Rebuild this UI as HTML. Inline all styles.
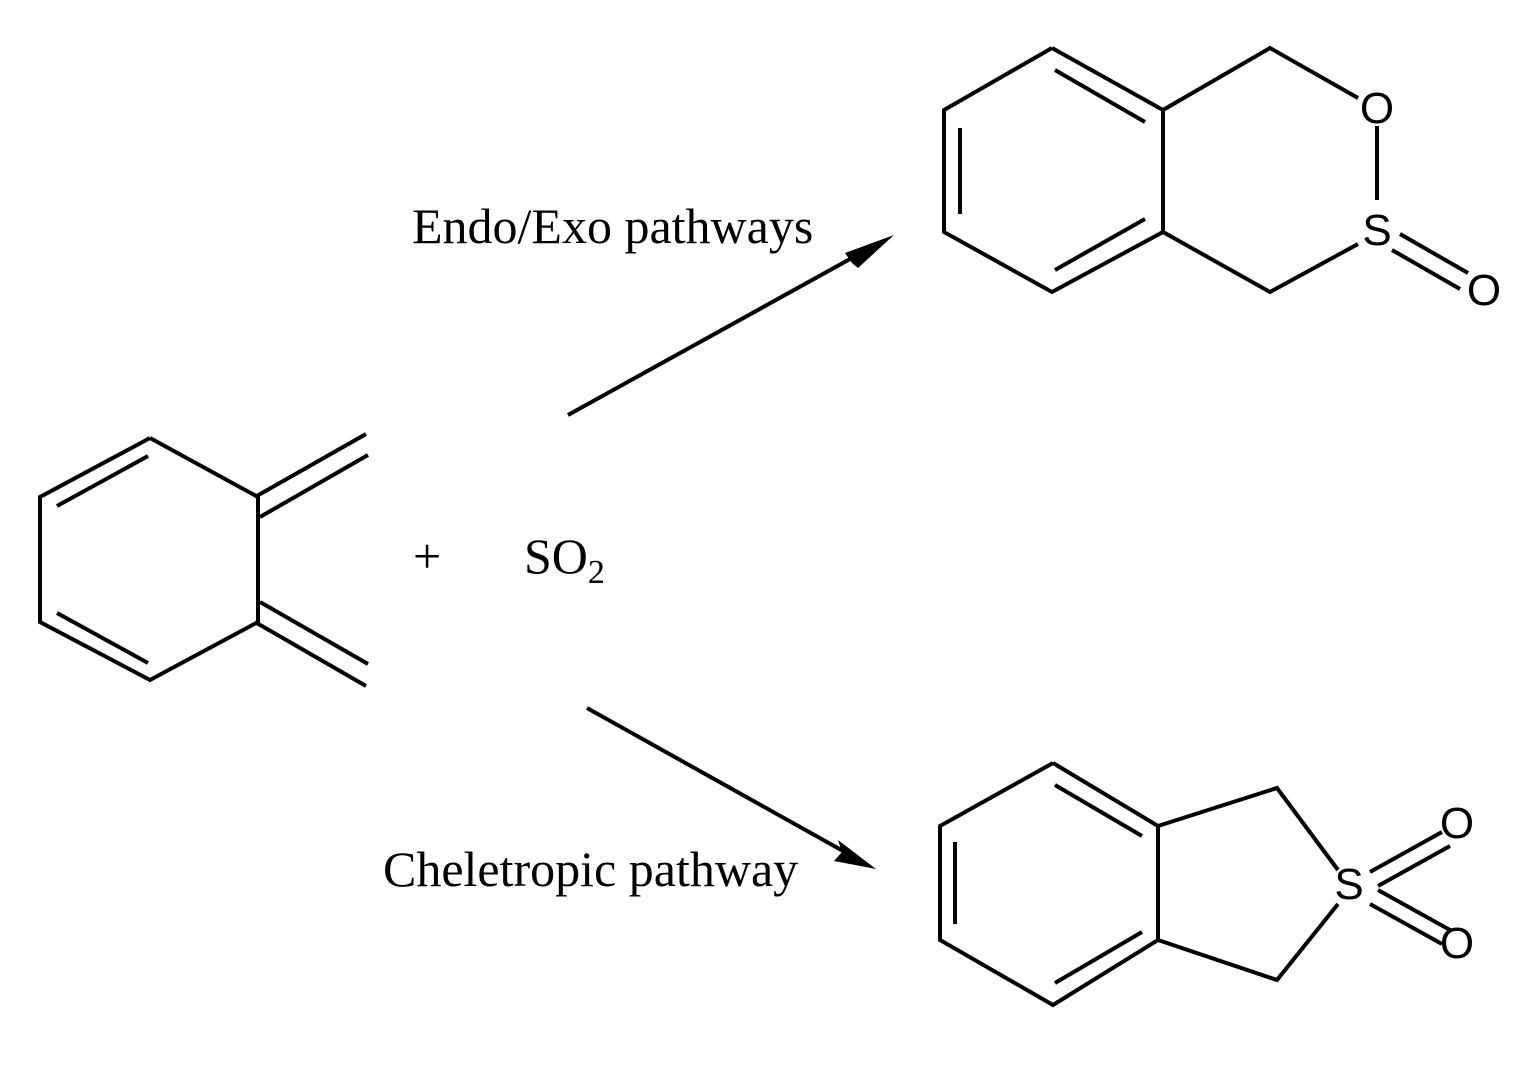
<!DOCTYPE html>
<html><head><style>
body{margin:0;background:#fff;}
svg{display:block}
text{font-family:"Liberation Serif",serif;fill:#000}
.a{font-family:"Liberation Sans",sans-serif}
</style></head><body>
<svg width="1538" height="1082" viewBox="0 0 1538 1082">
<g stroke="#000" stroke-width="4" fill="none" stroke-linecap="butt">
<polyline points="150,438 258,497 258,622 150,680 40,622 40,497 150,438"/>
<line x1="57" y1="506" x2="148" y2="456"/>
<line x1="57" y1="613" x2="148" y2="663"/>
<line x1="255" y1="497" x2="366" y2="434"/>
<line x1="260" y1="517" x2="368" y2="455"/>
<line x1="255" y1="622" x2="366" y2="686"/>
<line x1="260" y1="602" x2="368" y2="664"/>
<polyline points="1052,48 1163,110 1163,232 1052,292 944,232 944,110 1052,48"/>
<line x1="1055" y1="70" x2="1145" y2="122"/>
<line x1="960" y1="128" x2="960" y2="214"/>
<line x1="1055" y1="270" x2="1145" y2="219"/>
<polyline points="1163,110 1270,48 1358,98"/>
<line x1="1377" y1="126" x2="1377" y2="200"/>
<polyline points="1358,244 1270,292 1163,232"/>
<line x1="1400" y1="234" x2="1468" y2="273"/>
<line x1="1392" y1="250" x2="1460" y2="289"/>
<polyline points="1053,763 1158,826 1158,940 1053,1005 940,940 940,826 1053,763"/>
<line x1="1055" y1="785" x2="1142" y2="836"/>
<line x1="955" y1="842" x2="955" y2="924"/>
<line x1="1055" y1="983" x2="1142" y2="932"/>
<polyline points="1158,826 1277,788 1338,870"/>
<polyline points="1338,904 1277,980 1158,940"/>
<line x1="1370" y1="872" x2="1442" y2="832"/>
<line x1="1378" y1="886" x2="1450" y2="846"/>
<line x1="1378" y1="890" x2="1450" y2="930"/>
<line x1="1370" y1="904" x2="1442" y2="944"/>
<line x1="568" y1="415" x2="870" y2="248"/>
<line x1="587" y1="708" x2="852" y2="856"/>
</g>
<polygon points="894,235 845,253 852,263 858,268" fill="#000"/>
<polygon points="876,869 838,840 842,852 834,861" fill="#000"/>
<g class="a" font-size="44">
<text class="a" x="1377" y="123" text-anchor="middle">O</text>
<text class="a" x="1377" y="245" text-anchor="middle">S</text>
<text class="a" x="1484" y="305" text-anchor="middle">O</text>
<text class="a" x="1349" y="899" text-anchor="middle">S</text>
<text class="a" x="1457" y="838" text-anchor="middle">O</text>
<text class="a" x="1457" y="958" text-anchor="middle">O</text>
</g>
<text x="412" y="243" font-size="50">Endo/Exo pathways</text>
<text x="383" y="886" font-size="50">Cheletropic pathway</text>
<text x="413" y="573" font-size="50">+</text>
<text x="524" y="573" font-size="50">SO<tspan font-size="34" dy="10">2</tspan></text>
</svg>
</body></html>
